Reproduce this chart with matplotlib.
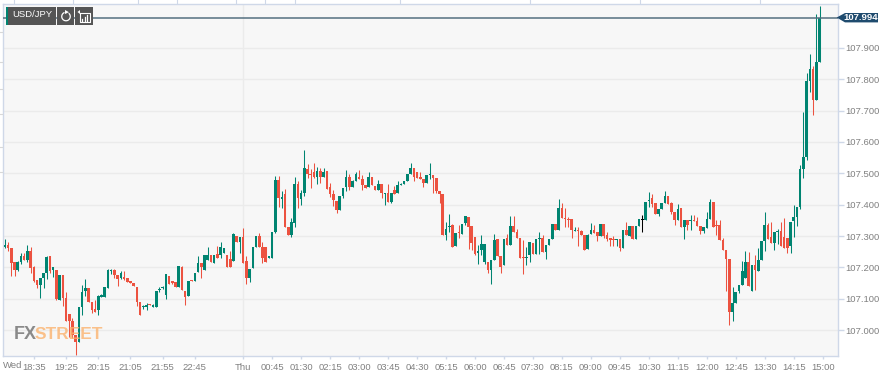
import matplotlib
matplotlib.use('Agg')
import matplotlib.pyplot as plt
from matplotlib.patches import Rectangle, Polygon, Arc

plt.rcParams['font.family'] = ['Liberation Sans', 'DejaVu Sans']

# 5 minute candles
opens = [
    107.258, 107.264, 107.272, 107.261, 107.219, 107.192, 107.219, 107.238, 107.224, 107.254,
    107.203, 107.160, 107.144, 107.166, 107.184, 107.235, 107.192, 107.192, 107.097, 107.175,
    107.102, 107.052, 107.028, 106.985, 106.964, 107.075, 107.125, 107.134, 107.091, 107.067,
    107.063, 107.107, 107.105, 107.134, 107.189, 107.192, 107.176, 107.166, 107.169, 107.166,
    107.157, 107.152, 107.139, 107.091, 107.073, 107.075, 107.083, 107.075, 107.073, 107.128,
    107.134, 107.113, 107.174, 107.157, 107.154, 107.139, 107.203, 107.126, 107.109, 107.160,
    107.157, 107.187, 107.215, 107.192, 107.224, 107.240, 107.213, 107.243, 107.240, 107.245,
    107.240, 107.227, 107.222, 107.300, 107.282, 107.296, 107.221, 107.166, 107.197, 107.264,
    107.301, 107.266, 107.266, 107.229, 107.231, 107.314, 107.480, 107.417, 107.434, 107.330,
    107.303, 107.342, 107.466, 107.418, 107.436, 107.513, 107.497, 107.505, 107.489, 107.506,
    107.487, 107.506, 107.455, 107.433, 107.413, 107.383, 107.429, 107.455, 107.488, 107.457,
    107.477, 107.489, 107.482, 107.463, 107.455, 107.487, 107.461, 107.447, 107.465, 107.433,
    107.436, 107.409, 107.447, 107.436, 107.463, 107.466, 107.475, 107.497, 107.516, 107.505,
    107.489, 107.482, 107.470, 107.495, 107.495, 107.484, 107.443, 107.433, 107.303, 107.328,
    107.335, 107.267, 107.313, 107.308, 107.342, 107.361, 107.331, 107.297, 107.246, 107.255,
    107.217, 107.217, 107.191, 107.225, 107.290, 107.235, 107.207, 107.295, 107.273, 107.331,
    107.313, 107.295, 107.233, 107.231, 107.239, 107.278, 107.244, 107.292, 107.295, 107.249,
    107.271, 107.292, 107.338, 107.319, 107.391, 107.359, 107.353, 107.356, 107.316, 107.319,
    107.316, 107.305, 107.260, 107.308, 107.320, 107.313, 107.299, 107.339, 107.302, 107.294,
    107.291, 107.289, 107.292, 107.261, 107.318, 107.300, 107.332, 107.290, 107.331, 107.351,
    107.352, 107.411, 107.421, 107.405, 107.369, 107.385, 107.405, 107.427, 107.405, 107.376,
    107.350, 107.390, 107.329, 107.350, 107.348, 107.352, 107.347, 107.332, 107.315, 107.327,
    107.355, 107.408, 107.334, 107.334, 107.286, 107.257, 107.228, 107.059, 107.088, 107.126,
    107.144, 107.165, 107.218, 107.126, 107.209, 107.188, 107.225, 107.284, 107.334, 107.297,
    107.279, 107.313, 107.316, 107.297, 107.294, 107.267, 107.348, 107.360, 107.392, 107.514,
    107.551, 107.795, 107.832, 107.733, 107.855,
]
closes = [
    107.325, 107.272, 107.261, 107.215, 107.192, 107.219, 107.235, 107.224, 107.254, 107.197,
    107.157, 107.144, 107.166, 107.182, 107.232, 107.189, 107.201, 107.099, 107.176, 107.102,
    107.028, 107.028, 106.985, 106.964, 107.075, 107.123, 107.134, 107.091, 107.065, 107.059,
    107.109, 107.113, 107.137, 107.192, 107.192, 107.176, 107.162, 107.182, 107.162, 107.155,
    107.152, 107.141, 107.089, 107.049, 107.077, 107.081, 107.081, 107.081, 107.126, 107.133,
    107.137, 107.179, 107.148, 107.150, 107.137, 107.206, 107.128, 107.107, 107.158, 107.157,
    107.184, 107.215, 107.201, 107.240, 107.240, 107.219, 107.240, 107.229, 107.264, 107.261,
    107.203, 107.203, 107.306, 107.282, 107.298, 107.215, 107.166, 107.196, 107.264, 107.301,
    107.266, 107.231, 107.219, 107.235, 107.314, 107.480, 107.420, 107.426, 107.330, 107.303,
    107.345, 107.465, 107.420, 107.436, 107.516, 107.498, 107.494, 107.489, 107.506, 107.489,
    107.505, 107.450, 107.433, 107.415, 107.383, 107.429, 107.454, 107.488, 107.457, 107.477,
    107.498, 107.481, 107.463, 107.454, 107.487, 107.463, 107.447, 107.465, 107.436, 107.436,
    107.409, 107.438, 107.434, 107.463, 107.465, 107.477, 107.497, 107.516, 107.487, 107.484,
    107.482, 107.470, 107.495, 107.497, 107.484, 107.443, 107.433, 107.303, 107.323, 107.331,
    107.265, 107.310, 107.310, 107.340, 107.363, 107.329, 107.279, 107.242, 107.252, 107.274,
    107.274, 107.191, 107.225, 107.289, 107.235, 107.203, 107.292, 107.271, 107.331, 107.313,
    107.295, 107.231, 107.229, 107.234, 107.281, 107.244, 107.292, 107.295, 107.249, 107.271,
    107.292, 107.338, 107.319, 107.391, 107.359, 107.353, 107.351, 107.319, 107.319, 107.315,
    107.305, 107.257, 107.305, 107.320, 107.310, 107.299, 107.339, 107.299, 107.292, 107.289,
    107.286, 107.292, 107.263, 107.318, 107.302, 107.332, 107.290, 107.331, 107.353, 107.351,
    107.408, 107.415, 107.403, 107.371, 107.387, 107.405, 107.429, 107.403, 107.376, 107.350,
    107.387, 107.329, 107.350, 107.334, 107.352, 107.347, 107.332, 107.315, 107.329, 107.355,
    107.408, 107.329, 107.331, 107.286, 107.257, 107.228, 107.059, 107.086, 107.123, 107.144,
    107.189, 107.218, 107.141, 107.209, 107.193, 107.225, 107.284, 107.334, 107.292, 107.279,
    107.313, 107.316, 107.267, 107.263, 107.262, 107.345, 107.360, 107.392, 107.514, 107.551,
    107.795, 107.832, 107.734, 107.855, 107.994,
]
highs = [
    107.325, 107.290, 107.282, 107.261, 107.219, 107.222, 107.247, 107.245, 107.272, 107.266,
    107.205, 107.160, 107.166, 107.182, 107.235, 107.235, 107.203, 107.192, 107.176, 107.175,
    107.123, 107.052, 107.040, 106.985, 107.075, 107.144, 107.162, 107.134, 107.091, 107.097,
    107.112, 107.115, 107.137, 107.194, 107.194, 107.194, 107.176, 107.189, 107.189, 107.166,
    107.157, 107.152, 107.139, 107.091, 107.080, 107.086, 107.085, 107.083, 107.126, 107.137,
    107.140, 107.179, 107.174, 107.157, 107.154, 107.206, 107.206, 107.126, 107.158, 107.160,
    107.184, 107.235, 107.215, 107.240, 107.264, 107.240, 107.240, 107.269, 107.282, 107.261,
    107.240, 107.251, 107.311, 107.300, 107.298, 107.325, 107.238, 107.196, 107.264, 107.301,
    107.309, 107.282, 107.266, 107.235, 107.314, 107.490, 107.490, 107.444, 107.450, 107.330,
    107.359, 107.489, 107.475, 107.447, 107.575, 107.529, 107.514, 107.532, 107.519, 107.516,
    107.516, 107.506, 107.468, 107.447, 107.413, 107.429, 107.454, 107.509, 107.498, 107.479,
    107.504, 107.509, 107.495, 107.463, 107.505, 107.487, 107.461, 107.479, 107.465, 107.436,
    107.465, 107.438, 107.460, 107.477, 107.470, 107.477, 107.497, 107.532, 107.516, 107.505,
    107.505, 107.482, 107.495, 107.532, 107.495, 107.484, 107.443, 107.433, 107.345, 107.369,
    107.337, 107.310, 107.335, 107.340, 107.365, 107.361, 107.331, 107.297, 107.271, 107.303,
    107.274, 107.217, 107.225, 107.308, 107.290, 107.235, 107.292, 107.306, 107.363, 107.363,
    107.324, 107.295, 107.287, 107.265, 107.281, 107.278, 107.292, 107.313, 107.303, 107.271,
    107.292, 107.338, 107.338, 107.417, 107.406, 107.391, 107.360, 107.356, 107.329, 107.330,
    107.321, 107.305, 107.308, 107.341, 107.334, 107.313, 107.339, 107.339, 107.313, 107.294,
    107.300, 107.292, 107.292, 107.318, 107.345, 107.332, 107.332, 107.331, 107.353, 107.368,
    107.408, 107.440, 107.434, 107.405, 107.387, 107.405, 107.445, 107.427, 107.408, 107.376,
    107.403, 107.390, 107.350, 107.350, 107.366, 107.366, 107.360, 107.332, 107.329, 107.376,
    107.419, 107.408, 107.352, 107.352, 107.293, 107.257, 107.228, 107.138, 107.123, 107.144,
    107.221, 107.253, 107.249, 107.209, 107.241, 107.263, 107.284, 107.376, 107.342, 107.345,
    107.313, 107.323, 107.345, 107.357, 107.294, 107.345, 107.400, 107.392, 107.525, 107.696,
    107.818, 107.880, 107.843, 108.007, 108.034,
]
lows = [
    107.255, 107.261, 107.251, 107.173, 107.173, 107.190, 107.211, 107.224, 107.219, 107.182,
    107.155, 107.134, 107.104, 107.134, 107.162, 107.182, 107.171, 107.097, 107.095, 107.077,
    107.028, 106.978, 106.975, 106.921, 106.964, 107.049, 107.109, 107.091, 107.054, 107.059,
    107.049, 107.105, 107.105, 107.134, 107.179, 107.166, 107.141, 107.162, 107.160, 107.155,
    107.152, 107.141, 107.077, 107.049, 107.067, 107.065, 107.079, 107.073, 107.073, 107.123,
    107.132, 107.099, 107.148, 107.148, 107.137, 107.139, 107.128, 107.079, 107.109, 107.157,
    107.157, 107.187, 107.166, 107.192, 107.224, 107.219, 107.213, 107.229, 107.229, 107.245,
    107.203, 107.203, 107.222, 107.282, 107.245, 107.215, 107.146, 107.155, 107.197, 107.264,
    107.266, 107.215, 107.219, 107.229, 107.231, 107.310, 107.392, 107.389, 107.330, 107.303,
    107.298, 107.330, 107.391, 107.399, 107.427, 107.484, 107.452, 107.484, 107.465, 107.468,
    107.487, 107.450, 107.424, 107.395, 107.374, 107.383, 107.422, 107.443, 107.447, 107.457,
    107.477, 107.481, 107.447, 107.454, 107.455, 107.463, 107.447, 107.447, 107.420, 107.399,
    107.409, 107.405, 107.434, 107.436, 107.463, 107.466, 107.475, 107.497, 107.477, 107.484,
    107.482, 107.455, 107.470, 107.482, 107.438, 107.436, 107.404, 107.303, 107.287, 107.313,
    107.265, 107.267, 107.295, 107.308, 107.335, 107.260, 107.255, 107.240, 107.212, 107.241,
    107.210, 107.183, 107.146, 107.225, 107.235, 107.182, 107.207, 107.271, 107.273, 107.313,
    107.295, 107.231, 107.180, 107.207, 107.217, 107.244, 107.244, 107.244, 107.249, 107.228,
    107.271, 107.292, 107.319, 107.319, 107.359, 107.329, 107.330, 107.295, 107.316, 107.267,
    107.305, 107.257, 107.260, 107.308, 107.310, 107.284, 107.299, 107.295, 107.284, 107.267,
    107.267, 107.267, 107.252, 107.261, 107.302, 107.300, 107.290, 107.290, 107.331, 107.313,
    107.352, 107.392, 107.392, 107.371, 107.364, 107.385, 107.405, 107.403, 107.370, 107.334,
    107.350, 107.329, 107.292, 107.320, 107.318, 107.347, 107.332, 107.308, 107.310, 107.327,
    107.355, 107.329, 107.302, 107.286, 107.257, 107.126, 107.017, 107.031, 107.088, 107.119,
    107.144, 107.165, 107.141, 107.126, 107.128, 107.188, 107.225, 107.253, 107.292, 107.279,
    107.255, 107.274, 107.267, 107.263, 107.246, 107.246, 107.297, 107.331, 107.386, 107.484,
    107.543, 107.758, 107.687, 107.733, 107.855,
]
last_price = 107.994

price_ticks = [107.0, 107.1, 107.2, 107.3, 107.4, 107.5, 107.6, 107.7, 107.8, 107.9]
time_idx = [10, 20, 30, 40, 50, 60, 75, 84, 93, 102, 111, 120, 129, 138, 147, 156, 165, 174,
            183, 192, 201, 210, 219, 228, 237, 246, 255]
time_labels = ['18:35', '19:25', '20:15', '21:05', '21:55', '22:45', 'Thu', '00:45', '01:30',
               '02:15', '03:00', '03:45', '04:30', '05:15', '06:00', '06:45', '07:30', '08:15',
               '09:00', '09:45', '10:30', '11:15', '12:00', '12:45', '13:30', '14:15', '15:00']

GREEN = '#008471'
RED = '#ec5240'
GRID = '#ebebeb'
EDGE = '#cfd8e8'
TXT = '#808080'

W, H = 881, 379
fig = plt.figure(figsize=(W / 100, H / 100), dpi=100, facecolor='white')
ax = fig.add_axes([2.5 / W, 1 - 356 / H, 836 / W, 352.5 / H], facecolor='#f7f7f7')
ax.set_xlim(0.26, 259.9)
ax.set_ylim(106.918, 108.041)

for s in ax.spines.values():
    s.set_color(EDGE)
    s.set_linewidth(1)

ax.set_axisbelow(True)
ax.yaxis.tick_right()
ax.set_yticks(price_ticks)
ax.set_yticklabels(['%.3f' % p for p in price_ticks], fontsize=6.8, color=TXT)
ax.set_xticks(time_idx)
ax.set_xticklabels(time_labels, fontsize=6.8, color=TXT)
ax.tick_params(axis='y', length=4, width=1, color=EDGE, pad=1)
ax.tick_params(axis='x', length=2, width=1, color=EDGE, pad=3)
ax.grid(axis='y', color=GRID, lw=1)
ax.axvline(75, color=GRID, lw=1, zorder=0)

# candles
xs = list(range(len(opens)))
cols = []
for o, c in zip(opens, closes):
    if o == c:
        cols.append('black')
    elif c > o:
        cols.append(GREEN)
    else:
        cols.append(RED)
ax.vlines(xs, lows, highs, colors=cols, lw=0.75, zorder=2)
bottoms = [min(o, c) for o, c in zip(opens, closes)]
heights = [max(abs(c - o), 0.002) for o, c in zip(opens, closes)]
ax.bar(xs, heights, bottom=bottoms, width=0.8, color=cols, lw=0, zorder=3)

ax.axhline(last_price, color='#54707f', lw=1.1, zorder=4)

# overlay in pixel coords for the things around the plot
ov = fig.add_axes([0, 0, 1, 1], facecolor='none')
ov.set_xlim(0, W)
ov.set_ylim(H, 0)
ov.axis('off')

ov.text(2.5, 365.5, 'Wed', fontsize=6.8, color=TXT, va='center', ha='left')

# stubs of the chart panel that is cut off on top and left
for x in [14, 73, 138, 177, 236, 265, 295, 400, 530, 640, 760]:
    ov.plot([x, x], [0, 3], color=EDGE, lw=0.8)
for y in [32, 62, 89, 114, 147, 172]:
    ov.plot([0, 2], [y, y], color='#d8d8d8', lw=0.8)

# buttons
ov.add_patch(Rectangle((6, 7), 50, 18, color='#555555', lw=0, zorder=5))
ov.add_patch(Rectangle((6, 7), 2, 18, color=GREEN, lw=0, zorder=6))
ov.add_patch(Rectangle((57, 7), 17, 18, color='#555555', lw=0, zorder=5))
ov.add_patch(Rectangle((75, 7), 18, 18, color='#555555', lw=0, zorder=5))
ov.text(32, 14.5, 'USD/JPY', fontsize=6.8, color='white', ha='center', va='center', zorder=7)
ov.add_patch(Arc((66, 16.5), 8.5, 8.5, theta1=-50, theta2=250, color='white', lw=0.9, zorder=7))
ov.add_patch(Polygon([(65, 10), (69, 12.2), (65, 14)], color='white', lw=0, zorder=7))
ov.plot([79.5, 79.5, 89.5, 89.5, 79.5], [13, 21.5, 21.5, 13, 13], color='white', lw=0.8, zorder=7)
ov.plot([82, 82], [19, 21], color='white', lw=0.9, zorder=7)
ov.plot([84.5, 84.5], [17, 21], color='white', lw=0.9, zorder=7)
ov.plot([87, 87], [15, 21], color='white', lw=0.9, zorder=7)
ov.add_patch(Polygon([(77.5, 12), (80, 10), (80, 14)], color='white', lw=0, zorder=7))

# last price tag
ov.add_patch(Polygon([(836.7, 17.5), (845, 13), (878, 13), (878, 22.4), (845, 22.4)],
                     color='#1f4b6e', lw=0, zorder=5))
ov.text(861, 17.8, '%.3f' % last_price, fontsize=6.8, fontweight='bold', color='white',
        ha='center', va='center', zorder=6)

# watermark
ov.text(14, 339, 'FX', fontsize=13, fontweight='bold', color='#777777', alpha=0.85,
        ha='left', va='baseline', zorder=8)
ov.text(35, 339, 'STREET', fontsize=12.5, fontweight='bold', color='#fbb36f', alpha=0.8,
        ha='left', va='baseline', zorder=8)

fig.savefig('out.png', dpi=100)
